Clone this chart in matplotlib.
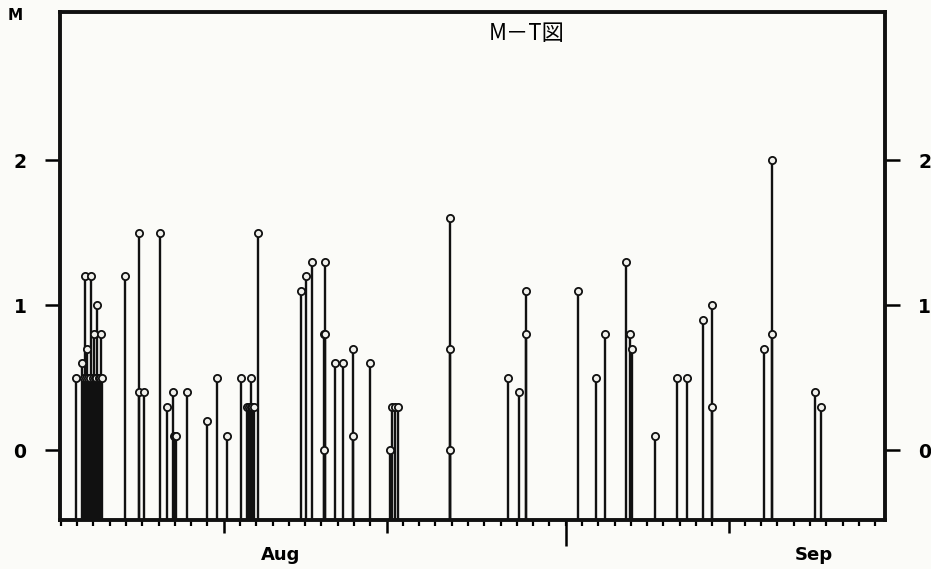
import matplotlib.pyplot as plt
import matplotlib.transforms as mtransforms

plt.rcParams['font.family'] = ['DejaVu Sans', 'Noto Sans CJK JP']

# event times (days from the left edge of the axis) and magnitudes
days = [0.96, 1.31, 1.47, 1.61, 1.74, 1.88, 2.04, 2.24, 2.29, 2.49,
        1.40, 1.55, 1.70, 1.80, 1.95, 2.10, 2.15, 2.35, 2.42, 2.55,
        3.95, 4.83, 4.83, 5.13, 6.09, 6.52, 6.89, 6.95, 7.02, 7.07,
        7.74, 8.97, 9.58, 10.19, 11.04, 11.45, 11.55, 11.66, 11.66, 11.76,
        11.86, 12.13, 14.77, 15.08, 15.40, 16.14, 16.18, 16.21, 16.24, 16.85,
        17.32, 17.91, 17.97, 18.99, 20.21, 20.35, 20.50, 20.68, 23.88, 23.90,
        23.92, 27.47, 28.16, 28.56, 28.56, 31.78, 32.87, 33.42, 34.68, 34.94,
        35.08, 36.45, 37.85, 38.45, 39.43, 39.98, 39.98, 43.20, 43.64, 43.64,
        46.33, 46.66]
mags = [0.5, 0.6, 1.2, 0.7, 0.5, 1.2, 0.8, 1.0, 0.5, 0.8,
        0.5, 0.5, 0.5, 0.5, 0.5, 0.5, 0.5, 0.5, 0.5, 0.5,
        1.2, 1.5, 0.4, 0.4, 1.5, 0.3, 0.4, 0.1, 0.1, 0.1,
        0.4, 0.2, 0.5, 0.1, 0.5, 0.3, 0.3, 0.5, 0.3, 0.3,
        0.3, 1.5, 1.1, 1.2, 1.3, 0.8, 0.0, 0.8, 1.3, 0.6,
        0.6, 0.1, 0.7, 0.6, 0.0, 0.3, 0.3, 0.3, 1.6, 0.7,
        0.0, 0.5, 0.4, 1.1, 0.8, 1.1, 0.5, 0.8, 1.3, 0.8,
        0.7, 0.1, 0.5, 0.5, 0.9, 1.0, 0.3, 0.7, 2.0, 0.8,
        0.4, 0.3]

month_names = ['Aug', 'Sep']
month_pos = [13.5, 46.2]
y_ticks = [0, 1, 2]

fig = plt.figure(figsize=(9.31, 5.69), dpi=100)
fig.patch.set_facecolor('#fbfbf8')
ax = fig.add_axes([0.0644, 0.0861, 0.8862, 0.8928])
ax.set_facecolor('#fbfbf8')

ax.vlines(days, -0.5, mags, color='#111111', lw=1.7, zorder=2)
ax.plot(days, mags, 'o', ms=5.2, mfc='#f0f0ec', mec='#111111', mew=1.3,
        zorder=3, clip_on=False)

ax.set_xlim(-0.05, 50.6)
ax.set_ylim(-0.48, 3.02)

for s in ax.spines.values():
    s.set_linewidth(2.8)
    s.set_color('#111111')

# y axis: ticks on both sides
ax.set_yticks(y_ticks)
ax.tick_params(axis='y', which='major', direction='out', length=11, width=1.8,
               pad=13, labelsize=13.5, left=True, right=True,
               labelleft=True, labelright=True)
for lab in ax.get_yticklabels():
    lab.set_fontweight('bold')

# x axis: day ticks, medium ticks every ten days
ax.set_xticks([10, 20, 41])
ax.set_xticks(range(0, 51), minor=True)
ax.set_xticklabels([])
ax.tick_params(axis='x', which='major', direction='out', length=9, width=1.8)
ax.tick_params(axis='x', which='minor', direction='out', length=4.5, width=1.6)

sec = ax.secondary_xaxis('bottom')
sec.set_xticks([31])
sec.set_xticklabels([])
sec.tick_params(length=19, width=1.8)
sec.spines['bottom'].set_visible(False)

trans = mtransforms.blended_transform_factory(ax.transData, ax.transAxes)
for name, pos in zip(month_names, month_pos):
    ax.text(pos, -0.069, name, transform=trans, ha='center', va='center',
            fontsize=13, fontweight='bold')

fig.text(0.016, 0.972, 'M', ha='center', va='center', fontsize=11,
         fontweight='bold')
ax.text(0.566, 0.958, 'M－T図', transform=ax.transAxes, ha='center',
        va='center', fontsize=16, family=['Noto Sans CJK JP', 'DejaVu Sans'])

fig.savefig('out.png', dpi=100, facecolor=fig.get_facecolor())
